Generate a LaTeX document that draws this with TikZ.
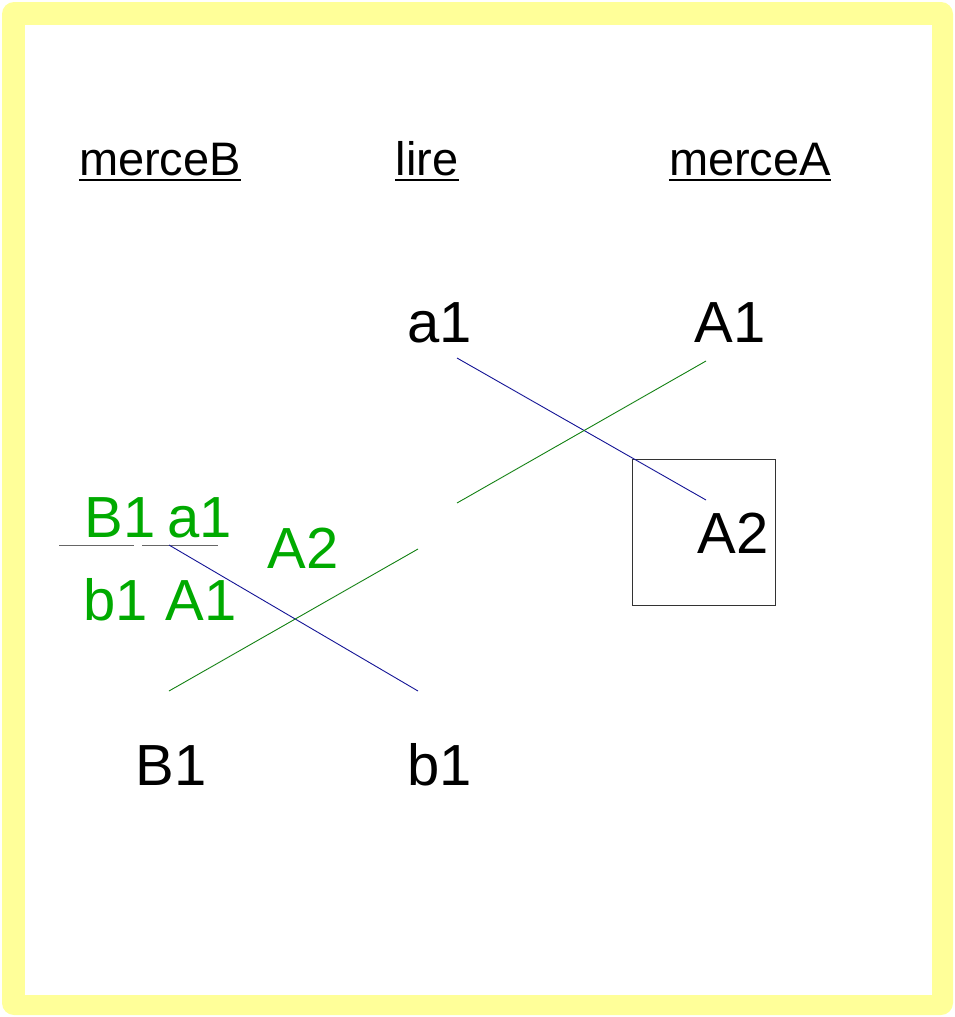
\documentclass[tikz,border=0pt]{standalone}
\usepackage{fontspec}
\setmainfont{Liberation Sans}
\definecolor{frameyellow}{RGB}{255,255,153}
\definecolor{lblgreen}{RGB}{0,170,0}
\definecolor{lngreen}{RGB}{20,130,20}
\definecolor{lnblue}{RGB}{20,20,150}
\begin{document}
\begin{tikzpicture}[x=1pt,y=-1pt,
  hdr/.style={inner sep=0pt,anchor=base,font=\fontsize{47}{50}\selectfont},
  big/.style={inner sep=0pt,anchor=base,font=\fontsize{58}{62}\selectfont},
  gbig/.style={big,text=lblgreen},
  ulin/.style={line width=2.6pt},
  bl/.style={lnblue,line width=0.9pt},
  gl/.style={lngreen,line width=0.9pt},
  sep/.style={gray!80!black,line width=1pt}]
\useasboundingbox (0,0) rectangle (955,1017);
\fill[frameyellow,rounded corners=12pt] (2,2) rectangle (953,1015);
\fill[white] (25,25) rectangle (932,995);
% headers
\node[hdr] (hB) at (160,175) {merceB};
\node[hdr] (hl) at (427,175) {lire};
\node[hdr] (hA) at (750,175) {merceA};
\foreach \n in {hB,hl,hA}{\draw[ulin] ([yshift=-5pt]\n.base west) -- ([yshift=-5pt]\n.base east);}
% black labels
\node[big] (a1) at (440,342) {a1};
\node[big] (A1) at (730,342) {A1};
\node[big] (A2) at (733,553) {A2};
\node[big] (B1) at (171,785) {B1};
\node[big] (b1) at (440,785) {b1};
% green labels
\node[gbig] (gB1) at (120,537) {B1};
\node[gbig] (ga1) at (200,537) {a1};
\node[gbig] (gA2) at (303,568) {A2};
\node[gbig] (gb1) at (116,620) {b1};
\node[gbig] (gA1) at (201,620) {A1};
% box
\node[draw=black!80,line width=0.9pt,minimum width=143pt,minimum height=146pt,inner sep=0pt] (box) at (703.5,532) {};
% coordinates
\coordinate (s1a) at (59,545); \coordinate (s1b) at (134,545);
\coordinate (s2a) at (142,545); \coordinate (s2b) at (218,545);
\coordinate (p1) at (457,358); \coordinate (p2) at (706,500);
\coordinate (p3) at (169,545); \coordinate (p4) at (418,691);
\coordinate (q1) at (706,361); \coordinate (q2) at (457,503);
\coordinate (q3) at (418,549); \coordinate (q4) at (169,691);
\draw[sep] (s1a) -- (s1b);
\draw[sep] (s2a) -- (s2b);
\draw[bl] (p1) -- (p2);
\draw[bl] (p3) -- (p4);
\draw[gl] (q1) -- (q2);
\draw[gl] (q3) -- (q4);
\end{tikzpicture}
\end{document}
